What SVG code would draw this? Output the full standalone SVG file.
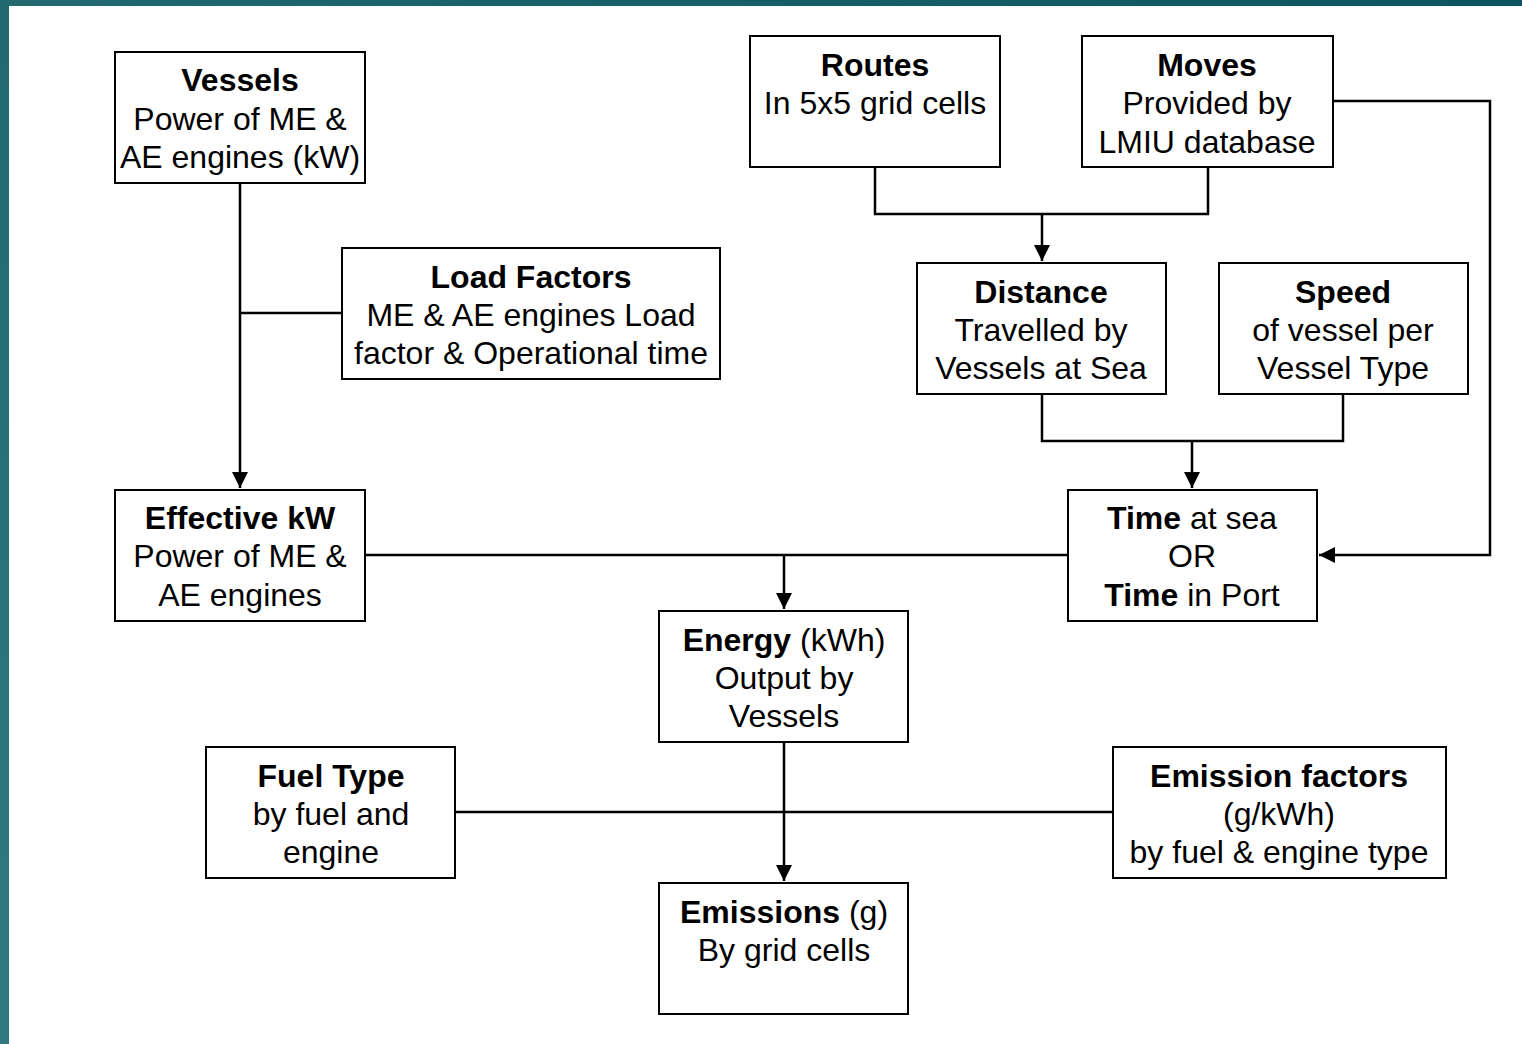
<svg xmlns="http://www.w3.org/2000/svg" width="1522" height="1044" viewBox="0 0 1522 1044">
<defs>
<linearGradient id="bg" x1="0" y1="1" x2="1" y2="0">
<stop offset="0" stop-color="#327a80"/>
<stop offset="0.5" stop-color="#21686f"/>
<stop offset="1" stop-color="#0c5560"/>
</linearGradient>
<marker id="ah" viewBox="0 0 10 10" refX="10" refY="5" markerWidth="6.5" markerHeight="6.5" orient="auto" markerUnits="strokeWidth">
<path d="M0,0 L10,5 L0,10 Z" fill="#000"/>
</marker>
<style>
.box{fill:#fff;stroke:#000;stroke-width:2}
text{font-family:"Liberation Sans",Arial,sans-serif;font-size:32px;fill:#000;text-anchor:middle}
.b{font-weight:bold}
.c{fill:none;stroke:#000;stroke-width:2.5}
</style>
</defs>
<rect x="0" y="0" width="1522" height="1044" fill="url(#bg)"/>
<rect x="9" y="6" width="1513" height="1038" fill="#fff"/>
<g id="connectors">
<path class="c" d="M240,183 V488" marker-end="url(#ah)"/>
<path class="c" d="M342,313 H240"/>
<path class="c" d="M875,167 V214 H1208 V167"/>
<path class="c" d="M1042,214 V261" marker-end="url(#ah)"/>
<path class="c" d="M1042,394 V441 H1343 V394"/>
<path class="c" d="M1192,441 V488" marker-end="url(#ah)"/>
<path class="c" d="M1333,101 H1490 V555 H1319" marker-end="url(#ah)"/>
<path class="c" d="M365,555 H1068"/>
<path class="c" d="M784,555 V609" marker-end="url(#ah)"/>
<path class="c" d="M784,742 V881" marker-end="url(#ah)"/>
<path class="c" d="M455,812 H1113"/>
</g>
<g id="vessels">
<rect class="box" x="115" y="52" width="250" height="131"/>
<text x="240" y="91" class="b">Vessels</text>
<text x="240" y="130">Power of ME &amp;</text>
<text x="240" y="168">AE engines (kW)</text>
</g>
<g id="routes">
<rect class="box" x="750" y="36" width="250" height="131"/>
<text x="875" y="76" class="b">Routes</text>
<text x="875" y="114">In 5x5 grid cells</text>
</g>
<g id="moves">
<rect class="box" x="1082" y="36" width="251" height="131"/>
<text x="1207" y="76" class="b">Moves</text>
<text x="1207" y="114">Provided by</text>
<text x="1207" y="153">LMIU database</text>
</g>
<g id="load-factors">
<rect class="box" x="342" y="248" width="378" height="131"/>
<text x="531" y="288" class="b">Load Factors</text>
<text x="531" y="326">ME &amp; AE engines Load</text>
<text x="531" y="364">factor &amp; Operational time</text>
</g>
<g id="distance">
<rect class="box" x="917" y="263" width="249" height="131"/>
<text x="1041" y="303" class="b">Distance</text>
<text x="1041" y="341">Travelled by</text>
<text x="1041" y="379">Vessels at Sea</text>
</g>
<g id="speed">
<rect class="box" x="1219" y="263" width="249" height="131"/>
<text x="1343" y="303" class="b">Speed</text>
<text x="1343" y="341">of vessel per</text>
<text x="1343" y="379">Vessel Type</text>
</g>
<g id="effective-kw">
<rect class="box" x="115" y="490" width="250" height="131"/>
<text x="240" y="529" class="b">Effective kW</text>
<text x="240" y="567">Power of ME &amp;</text>
<text x="240" y="606">AE engines</text>
</g>
<g id="time">
<rect class="box" x="1068" y="490" width="249" height="131"/>
<text x="1192" y="529"><tspan class="b">Time</tspan> at sea</text>
<text x="1192" y="567">OR</text>
<text x="1192" y="606"><tspan class="b">Time</tspan> in Port</text>
</g>
<g id="energy">
<rect class="box" x="659" y="611" width="249" height="131"/>
<text x="784" y="651"><tspan class="b">Energy</tspan> (kWh)</text>
<text x="784" y="689">Output by</text>
<text x="784" y="727">Vessels</text>
</g>
<g id="fuel-type">
<rect class="box" x="206" y="747" width="249" height="131"/>
<text x="331" y="787" class="b">Fuel Type</text>
<text x="331" y="825">by fuel and</text>
<text x="331" y="863">engine</text>
</g>
<g id="emission-factors">
<rect class="box" x="1113" y="747" width="333" height="131"/>
<text x="1279" y="787" class="b">Emission factors</text>
<text x="1279" y="825">(g/kWh)</text>
<text x="1279" y="863">by fuel &amp; engine type</text>
</g>
<g id="emissions">
<rect class="box" x="659" y="883" width="249" height="131"/>
<text x="784" y="923"><tspan class="b">Emissions</tspan> (g)</text>
<text x="784" y="961">By grid cells</text>
</g>
</svg>
